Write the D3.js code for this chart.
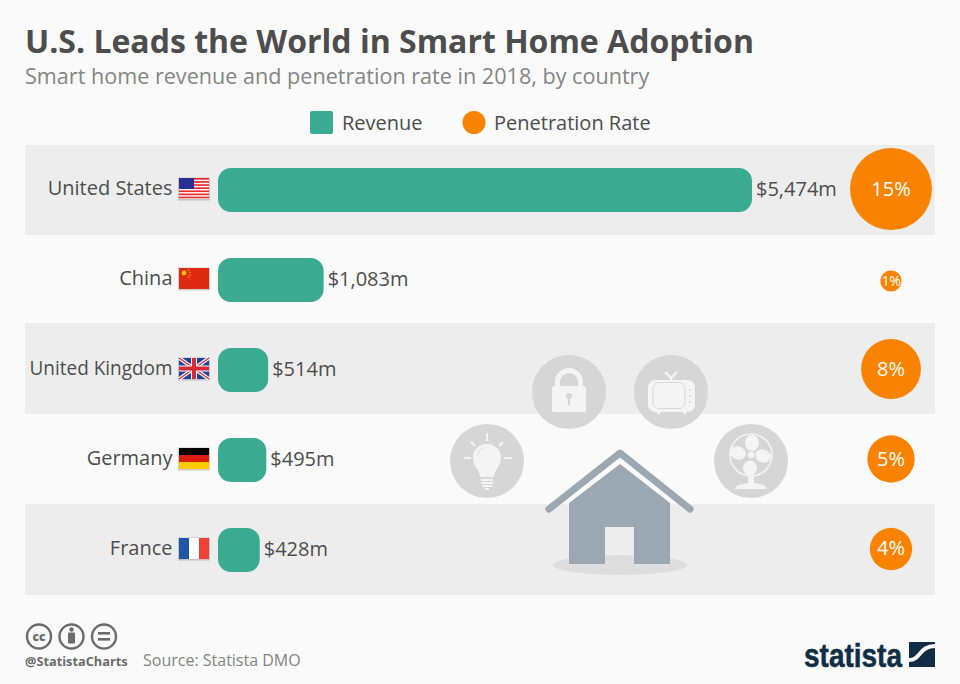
<!DOCTYPE html>
<html>
<head>
<meta charset="utf-8">
<script src="https://cdn.jsdelivr.net/npm/d3@7"></script>
<style>
  html, body { margin: 0; padding: 0; background: #fafafa; }
  svg { display: block; font-family: 'Open Sans', sans-serif; }
</style>
</head>
<body>
<div class="chart"></div>
<script>
const countries = ['United States', 'China', 'United Kingdom', 'Germany', 'France'];
const flagCodes = ['us', 'cn', 'uk', 'de', 'fr'];
const revenue = [5474, 1083, 514, 495, 428];
const penetration = [15, 1, 8, 5, 4];

const width = 960,
  height = 684,
  teal = '#3aaa90',
  orange = '#f98300',
  textDark = '#4d4d4d',
  textGrey = '#858585';

const svg = d3
  .select('.chart')
  .append('svg')
  .attr('width', width)
  .attr('height', height);

svg.append('rect').attr('width', width).attr('height', height).attr('fill', '#fafafa');

// Scales
const y = d3.scaleBand().domain(countries).range([145, 595]);
const x = d3.scaleLinear().domain([0, 5474]).range([218, 752]);
const r = d3.scaleSqrt().domain([0, 15]).range([0, 41]);
const barHeight = 44;
const rowCenter = d => y(d) + y.bandwidth() / 2;

// Title block
svg.append('text').attr('x', 25).attr('y', 53).attr('font-size', 32).attr('font-weight', 700)
  .attr('fill', textDark).text('U.S. Leads the World in Smart Home Adoption');
svg.append('text').attr('x', 25).attr('y', 84).attr('font-size', 21.6).attr('fill', textGrey)
  .text('Smart home revenue and penetration rate in 2018, by country');

// Legend
svg.append('rect').attr('x', 310).attr('y', 111).attr('width', 23).attr('height', 23).attr('rx', 2).attr('fill', teal);
svg.append('text').attr('x', 342).attr('y', 130).attr('font-size', 20).attr('fill', textDark).text('Revenue');
svg.append('circle').attr('cx', 474).attr('cy', 122.5).attr('r', 11.5).attr('fill', orange);
svg.append('text').attr('x', 494).attr('y', 130).attr('font-size', 20).attr('fill', textDark).text('Penetration Rate');

// Row stripes, the picture's stripes are a little uneven
const stripeShift = [0, 0, 2, 0, 1];
svg.selectAll('.row')
  .data(countries)
  .enter()
  .append('rect')
  .attr('class', 'row')
  .attr('x', 25)
  .attr('width', 910)
  .attr('y', (d, i) => y(d) - stripeShift[i])
  .attr('height', y.bandwidth() + 1)
  .attr('fill', (d, i) => (i % 2 === 0 ? '#ededed' : '#fafafa'));

// Bars
svg.selectAll('.bar')
  .data(countries)
  .enter()
  .append('rect')
  .attr('class', 'bar')
  .attr('x', x(0))
  .attr('y', d => rowCenter(d) - barHeight / 2)
  .attr('width', (d, i) => x(revenue[i]) - x(0))
  .attr('height', barHeight)
  .attr('rx', 13)
  .attr('fill', teal);

svg.selectAll('.value')
  .data(countries)
  .enter()
  .append('text')
  .attr('class', 'value')
  .attr('x', (d, i) => x(revenue[i]) + 4)
  .attr('y', d => rowCenter(d) + 6)
  .attr('font-size', 20)
  .attr('fill', textDark)
  .text((d, i) => '$' + d3.format(',')(revenue[i]) + 'm');

// Country labels
svg.selectAll('.country')
  .data(countries)
  .enter()
  .append('text')
  .attr('class', 'country')
  .attr('x', 172.5)
  .attr('y', d => rowCenter(d) + 5)
  .attr('text-anchor', 'end')
  .attr('font-size', 20)
  .attr('fill', textDark)
  .attr('textLength', d => (d === 'United Kingdom' ? 143 : null))
  .attr('lengthAdjust', 'spacingAndGlyphs')
  .text(d => d);

// Icon scenery sits under the circles, over the stripes
const scenery = svg.append('g');
drawScenery(scenery);

// Penetration circles
svg.selectAll('.rate')
  .data(countries)
  .enter()
  .append('circle')
  .attr('class', 'rate')
  .attr('cx', 891)
  .attr('cy', (d, i) => rowCenter(d) + (i === 1 ? 1 : -1))
  .attr('r', (d, i) => r(penetration[i]))
  .attr('fill', orange);

svg.selectAll('.rate-label')
  .data(countries)
  .enter()
  .append('text')
  .attr('class', 'rate-label')
  .attr('x', 891)
  .attr('y', (d, i) => rowCenter(d) + (i === 1 ? 6 : 6) - (i === 4 ? 1 : 0))
  .attr('text-anchor', 'middle')
  .attr('font-size', (d, i) => (penetration[i] === 1 ? 14 : 20))
  .attr('font-weight', 500)
  .attr('letter-spacing', (d, i) => (penetration[i] === 1 ? -0.5 : 0))
  .attr('fill', '#fff')
  .text((d, i) => penetration[i] + '%');

// Flags
countries.forEach((d, i) => {
  const g = svg.append('g').attr('transform', `translate(179, ${rowCenter(d) - 12})`);
  g.append('rect').attr('x', -1).attr('y', -0.5).attr('width', 32).attr('height', 23).attr('fill', '#000').attr('opacity', 0.18);
  drawFlag(g, flagCodes[i]);
});

function drawFlag(g, code) {
  const w = 30, h = 21;
  const stripe = (sx, sy, sw, sh, fill) => g.append('rect').attr('x', sx).attr('y', sy).attr('width', sw).attr('height', sh).attr('fill', fill);
  if (code === 'us') {
    stripe(0, 0, w, h, '#fff');
    d3.range(0, 7).forEach(k => stripe(0, k * 3.1, w, 1.7, '#ec2b2f'));
    stripe(0, 0, 15, 11, '#2a2f96');
  } else if (code === 'cn') {
    stripe(0, 0, w, h, '#dd2a10');
    g.append('circle').attr('cx', 5).attr('cy', 5).attr('r', 2.4).attr('fill', '#f7c600');
    [[9.5, 2], [11, 4.2], [11, 7], [9.5, 9]].forEach(p =>
      g.append('circle').attr('cx', p[0]).attr('cy', p[1]).attr('r', 0.7).attr('fill', '#f7c600'));
  } else if (code === 'uk') {
    stripe(0, 0, w, h, '#20409a');
    const line = (x1, y1, x2, y2, c, sw) => g.append('line').attr('x1', x1).attr('y1', y1).attr('x2', x2).attr('y2', y2).attr('stroke', c).attr('stroke-width', sw);
    line(0, 0, w, h, '#fff', 3.6);
    line(w, 0, 0, h, '#fff', 3.6);
    line(0, 0, w, h, '#d8283a', 1.3);
    line(w, 0, 0, h, '#d8283a', 1.3);
    stripe(12, 0, 6, h, '#fff');
    stripe(0, 7.5, w, 6, '#fff');
    stripe(13, 0, 4, h, '#d8283a');
    stripe(0, 8.5, w, 4, '#d8283a');
  } else if (code === 'de') {
    stripe(0, 0, w, 7, '#000');
    stripe(0, 7, w, 7, '#dd1d0c');
    stripe(0, 14, w, 7, '#fdcb00');
  } else {
    stripe(0, 0, 10, h, '#1f57a6');
    stripe(10, 0, 10, h, '#fff');
    stripe(20, 0, 10, h, '#ef4135');
  }
}

function drawScenery(g) {
  const disc = '#d6d6d6', white = '#f4f4f4', slate = '#9ba8b2';
  [[487, 461], [569, 392], [671, 392], [751, 461]].forEach(c =>
    g.append('circle').attr('cx', c[0]).attr('cy', c[1]).attr('r', 37).attr('fill', disc));

  // House
  g.append('ellipse').attr('cx', 620).attr('cy', 565).attr('rx', 67).attr('ry', 10).attr('fill', '#dedede');
  g.append('path').attr('fill', slate)
    .attr('d', 'M569 503 L620 464 L670 503 L670 564 L634 564 L634 527 L605 527 L605 564 L569 564 Z');
  g.append('path').attr('fill', 'none').attr('stroke', slate).attr('stroke-width', 7).attr('stroke-linecap', 'round').attr('stroke-linejoin', 'round')
    .attr('d', 'M549 509 L620 453 L690 509');

  // Lock
  g.append('path').attr('fill', 'none').attr('stroke', white).attr('stroke-width', 5)
    .attr('d', 'M557.5 386 V382 A11.5 11.5 0 0 1 580.5 382 V386');
  g.append('rect').attr('x', 552).attr('y', 386).attr('width', 34).attr('height', 26).attr('rx', 2).attr('fill', white);
  g.append('circle').attr('cx', 569).attr('cy', 396).attr('r', 3).attr('fill', disc);
  g.append('rect').attr('x', 568).attr('y', 397).attr('width', 2).attr('height', 8).attr('fill', disc);

  // TV
  g.append('path').attr('stroke', white).attr('stroke-width', 2).attr('fill', 'none').attr('d', 'M665 372 L671 378 L677 372 M671 378 V381');
  g.append('rect').attr('x', 648).attr('y', 380).attr('width', 47).attr('height', 32).attr('rx', 7).attr('fill', white);
  g.append('rect').attr('x', 653).attr('y', 382.5).attr('width', 32).attr('height', 26).attr('rx', 6).attr('fill', white).attr('stroke', disc).attr('stroke-width', 1);
  [390, 396, 402].forEach(cy => g.append('circle').attr('cx', 690).attr('cy', cy).attr('r', 1).attr('fill', disc));
  g.append('rect').attr('x', 657).attr('y', 412).attr('width', 3).attr('height', 2).attr('fill', white);
  g.append('rect').attr('x', 683).attr('y', 412).attr('width', 3).attr('height', 2).attr('fill', white);

  // Bulb
  g.append('path').attr('fill', white)
    .attr('d', 'M480 477 C480 470 473 466 473 458 A14 14 0 0 1 501 458 C501 466 494 470 494 477 Z');
  g.append('path').attr('stroke', disc).attr('stroke-width', 0.8).attr('fill', 'none')
    .attr('d', 'M477 456 A10 10 0 0 1 484 448');
  g.append('path').attr('stroke', white).attr('stroke-width', 2).attr('fill', 'none')
    .attr('d', 'M481 480 H493 M481 483 H493 M482 486 H492 M485 489 H489 M487 433 V441 M471 442 L475 446 M503 442 L499 446 M464 458 H471 M504 458 H512');

  // Fan
  g.append('circle').attr('cx', 751).attr('cy', 455).attr('r', 21).attr('fill', 'none').attr('stroke', white).attr('stroke-width', 1.5);
  [[752, 443, 7, 8, 0], [763, 456, 8, 6.5, 20], [750, 468, 7, 7.5, 0], [738, 453, 8, 6.5, 20]].forEach(p =>
    g.append('ellipse').attr('cx', p[0]).attr('cy', p[1]).attr('rx', p[2]).attr('ry', p[3])
      .attr('transform', `rotate(${p[4]} ${p[0]} ${p[1]})`).attr('fill', white));
  g.append('circle').attr('cx', 751).attr('cy', 455).attr('r', 4).attr('fill', white).attr('stroke', disc).attr('stroke-width', 1);
  g.append('path').attr('fill', white).attr('d', 'M748 476 H754 V483 C758 484 767 484 767 489 H735 C735 484 744 484 748 483 Z');
}

// Footer
const cc = svg.append('g').attr('fill', 'none').attr('stroke', '#6b6b6b').attr('stroke-width', 2.4);
[39, 71.5, 104].forEach(cx => cc.append('circle').attr('cx', cx).attr('cy', 636.5).attr('r', 12));
svg.append('text').attr('x', 39).attr('y', 641).attr('text-anchor', 'middle').attr('font-size', 12).attr('font-weight', 800).attr('fill', '#6b6b6b').text('cc');
svg.append('circle').attr('cx', 71.5).attr('cy', 629.5).attr('r', 2.2).attr('fill', '#6b6b6b');
svg.append('rect').attr('x', 68).attr('y', 632.5).attr('width', 7).attr('height', 11).attr('rx', 1).attr('fill', '#6b6b6b');
svg.append('rect').attr('x', 98).attr('y', 632).attr('width', 12).attr('height', 2.6).attr('fill', '#6b6b6b');
svg.append('rect').attr('x', 98).attr('y', 638).attr('width', 12).attr('height', 2.6).attr('fill', '#6b6b6b');

svg.append('text').attr('x', 25).attr('y', 666).attr('font-size', 12.75).attr('font-weight', 700).attr('fill', '#6b6b6b').text('@StatistaCharts');
svg.append('text').attr('x', 143).attr('y', 666).attr('font-size', 16).attr('fill', textGrey).text('Source: Statista DMO');

// Statista logo
svg.append('text').attr('x', 804).attr('y', 667).attr('font-size', 34).attr('font-weight', 700)
  .attr('font-family', "'Liberation Sans Narrow', 'Liberation Sans', sans-serif")
  .attr('textLength', 98).attr('lengthAdjust', 'spacingAndGlyphs').attr('fill', '#0f2e46')
  .attr('stroke', '#0f2e46').attr('stroke-width', 0.5).text('statista');
svg.append('rect').attr('x', 909).attr('y', 642).attr('width', 26).attr('height', 25).attr('fill', '#0f2e46');
svg.append('path').attr('fill', 'none').attr('stroke', '#fafafa').attr('stroke-width', 4)
  .attr('d', 'M909 660 C921 660 919 646 935 646');
</script>
</body>
</html>
